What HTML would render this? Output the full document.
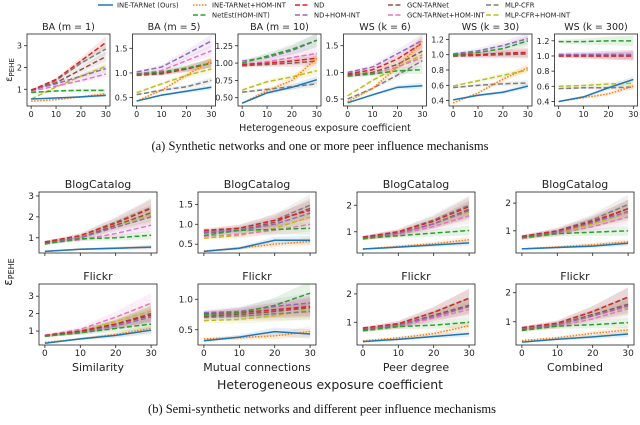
<!DOCTYPE html>
<html><head><meta charset="utf-8"><style>
body{margin:0;background:#fff;}
svg text{font-family:"DejaVu Sans","Liberation Sans",sans-serif;fill:#222;}
.cap{font-family:"Liberation Serif",serif;fill:#111;}
</style></head><body>
<svg id="fig" width="640" height="420" viewBox="0 0 640 420" xmlns="http://www.w3.org/2000/svg"></svg>
<script>
const xVals=[0,10,20,30];
const seriesNames=["INE-TARNet (Ours)","INE-TARNet+HOM-INT","NetEst(HOM-INT)","ND","ND+HOM-INT","GCN-TARNet","GCN-TARNet+HOM-INT","MLP-CFR","MLP-CFR+HOM-INT"];
const panelTitles=["BA (m = 1)","BA (m = 5)","BA (m = 10)","WS (k = 6)","WS (k = 30)","WS (k = 300)","BlogCatalog","BlogCatalog","BlogCatalog","BlogCatalog","Flickr","Flickr","Flickr","Flickr"];
const yLims=[[0.23,3.54],[0.33,1.79],[0.38,1.42],[0.37,1.72],[0.33,1.27],[0.34,1.29],[0.27,3.19],[0.28,1.81],[0.2,2.5],[0.2,2.4],[0.2,3.7],[0.25,1.25],[0.2,2.35],[0.2,2.3]];
const yTicks=[[1,2,3],[0.5,1.0,1.5],[0.5,0.75,1.0,1.25],[0.5,1.0,1.5],[0.4,0.6,0.8,1.0,1.2],[0.4,0.6,0.8,1.0,1.2],[1,2,3],[0.5,1.0,1.5],[1,2],[1,2],[1,2,3],[0.5,1.0],[1,2],[1,2]];
const yTickLabels=[["1","2","3"],["0.5","1.0","1.5"],["0.50","0.75","1.00","1.25"],["0.5","1.0","1.5"],["0.4","0.6","0.8","1.0","1.2"],["0.4","0.6","0.8","1.0","1.2"],["1","2","3"],["0.5","1.0","1.5"],["1","2"],["1","2"],["1","2","3"],["0.5","1.0"],["1","2"],["1","2"]];
const bandFrac=[0.06,0.05,0.05,0.05,0.04,0.04,0.12,0.12,0.12,0.12,0.15,0.12,0.12,0.12];
const d0=[[.55,.6,.65,.72],[.45,.52,.65,.8],[.85,.92,.95,.95],[.95,1.45,2.3,3.15],[.98,1.25,1.6,1.95],[.95,1.3,1.9,2.5],[.9,1.15,1.4,1.7],[.9,1.4,2.2,2.85],[.55,1.1,1.6,2.05]];
const d1=[[.43,.55,.63,.71],[.43,.65,.95,1.25],[.98,1.02,1.1,1.2],[.98,1.0,1.08,1.2],[1.02,1.12,1.38,1.65],[.95,.98,1.08,1.2],[.98,1.05,1.25,1.45],[.56,.65,.72,.85],[.6,.78,.95,1.08]];
const d2=[[.42,.57,.65,.76],[.42,.6,.75,1.07],[1.0,1.1,1.2,1.33],[.98,1.0,1.03,1.07],[1.03,1.08,1.18,1.33],[.96,.98,1.0,1.03],[.98,1.02,1.08,1.14],[.58,.62,.66,.7],[.61,.73,.8,.89]];
const d3=[[.43,.58,.72,.75],[.45,.7,1.1,1.58],[.93,.97,1.03,1.05],[.97,1.05,1.25,1.55],[1.0,1.1,1.35,1.6],[.95,1.0,1.15,1.4],[.93,.98,1.1,1.28],[.5,.7,.95,1.22],[.56,.85,1.1,1.33]];
const d4=[[.41,.47,.51,.59],[.37,.5,.68,.83],[1.0,1.03,1.08,1.18],[1.0,1.0,1.02,1.03],[1.01,1.05,1.12,1.21],[.98,.99,1.0,1.01],[.99,1.0,1.01,1.02],[.57,.6,.62,.63],[.59,.66,.73,.8]];
const d5=[[.4,.46,.58,.69],[.4,.45,.5,.6],[1.19,1.19,1.2,1.2],[1.0,1.0,1.0,1.0],[1.02,1.02,1.02,1.02],[1.0,1.0,1.0,1.0],[1.02,1.02,1.02,1.02],[.57,.58,.58,.59],[.6,.61,.63,.64]];
const d6=[[.35,.45,.5,.55],[.35,.45,.5,.55],[.7,.95,1.0,1.12],[.8,1.1,1.7,2.4],[.8,1.0,1.5,2.0],[.75,1.0,1.6,2.2],[.75,.9,1.2,1.6],[.8,1.1,1.75,2.45],[.7,1.0,1.6,2.1]];
const d7=[[.32,.4,.6,.6],[.33,.4,.5,.57],[.72,.85,.87,.9],[.85,.9,1.1,1.35],[.8,.85,1.0,1.28],[.78,.85,1.05,1.4],[.7,.75,.85,1.0],[.82,.9,1.1,1.48],[.65,.72,.9,1.18]];
const d8=[[.35,.42,.5,.58],[.35,.45,.55,.7],[.75,.85,.95,1.05],[.8,1.0,1.4,1.95],[.8,.95,1.3,1.8],[.75,.95,1.3,1.85],[.72,.9,1.2,1.6],[.8,1.0,1.45,2.0],[.72,.9,1.3,1.75]];
const d9=[[.35,.4,.45,.55],[.35,.42,.5,.6],[.75,.9,.95,1.0],[.8,1.0,1.35,1.8],[.8,.95,1.3,1.7],[.75,.95,1.3,1.8],[.72,.9,1.15,1.5],[.8,1.0,1.4,1.95],[.72,.9,1.25,1.65]];
const d10=[[.3,.55,.75,1.05],[.35,.55,.8,1.15],[.7,.9,1.15,1.4],[.75,1.0,1.4,1.9],[.75,.9,1.3,1.8],[.7,.95,1.4,2.0],[.75,1.1,1.8,2.6],[.7,.95,1.4,2.0],[.7,1.0,1.55,2.15]];
const d11=[[.32,.38,.47,.43],[.35,.37,.4,.47],[.75,.78,.9,1.1],[.76,.78,.83,.88],[.78,.8,.88,.94],[.72,.75,.8,.86],[.74,.77,.82,.9],[.7,.72,.76,.8],[.65,.67,.73,.83]];
const d12=[[.32,.4,.5,.6],[.35,.45,.6,.88],[.7,.85,.9,1.0],[.8,.95,1.35,1.85],[.78,.9,1.2,1.55],[.75,.9,1.25,1.6],[.72,.85,1.15,1.45],[.78,.95,1.35,1.85],[.7,.85,1.2,1.55]];
const d13=[[.3,.4,.48,.58],[.35,.45,.6,.72],[.7,.85,.9,.97],[.8,.95,1.35,1.85],[.78,.9,1.2,1.55],[.75,.9,1.25,1.6],[.72,.85,1.1,1.45],[.78,.95,1.35,1.85],[.7,.85,1.2,1.5]];
const panelData=[d0,d1,d2,d3,d4,d5,d6,d7,d8,d9,d10,d11,d12,d13];
const bottomXLabels=["Similarity","Mutual connections","Peer degree","Combined"];

const colors=["#1f77b4","#ff7f0e","#2ca02c","#d62728","#9467bd","#8c564b","#e377c2","#7f7f7f","#bcbd22"];
const dashes=["none","1.5,1.5","5,2.5","5,2.5","5,2.5","5,2.5","5,2.5","5,2.5","5,2.5"];
const NS="http://www.w3.org/2000/svg";
const svg=document.getElementById('fig');
function mk(tag,attrs,parent){const e=document.createElementNS(NS,tag);for(const k in attrs)e.setAttribute(k,attrs[k]);(parent||svg).appendChild(e);return e;}
function txt(s,x,y,size,anchor,parent,cls){const t=mk('text',{x:x,y:y,'font-size':size,'text-anchor':anchor||'middle'},parent);if(cls)t.setAttribute('class',cls);t.textContent=s;return t;}
function slug(s){return s.toLowerCase().replace(/[^a-z0-9]+/g,'-').replace(/^-|-$/g,'');}

// legend
const legPos=[[98,5],[193,5],[295,5],[388,5],[486,5],[193,15],[295,15],[388,15],[486,15]];
const legOrder=[0,1,3,5,7,2,4,6,8];
const leg=mk('g',{});


legOrder.forEach((si,i)=>{
  const g=mk('g',{},leg);
  
  
  const [lx,ly]=legPos[i];
  mk('line',{x1:lx,y1:ly,x2:lx+15,y2:ly,stroke:colors[si],'stroke-width':1.5,'stroke-dasharray':dashes[si]},g);
  txt(seriesNames[si],lx+19,ly+2.5,6.8,'start',g);
});

// panel geometry
function geom(i){
  if(i<6) return {x:27+i*105.5,y:34,w:83,h:72,fs:8,ts:9.5};
  const j=(i-6)%4, r=Math.floor((i-6)/4);
  return {x:39+j*159,y:r?284:192,w:118,h:61,fs:9,ts:11};
}
panelData.forEach((data,pi)=>{
  const G=geom(pi);
  const g=mk('g',{});
  
  
  const [y0,y1]=yLims[pi];
  const xs=v=>G.x+G.w*(0.05+0.9*v/30);
  const ys=v=>G.y+G.h*(1-(v-y0)/(y1-y0));
  const clipId='c'+pi;
  const cp=mk('clipPath',{id:clipId},g);mk('rect',{x:G.x,y:G.y,width:G.w,height:G.h},cp);
  const plot=mk('g',{'clip-path':'url(#'+clipId+')'},g);
  data.forEach((vals,si)=>{
    const up=vals.map((v,k)=>xs(xVals[k])+','+ys(v*(1+bandFrac[pi]*(0.5+k/3))));
    const dn=vals.map((v,k)=>xs(xVals[k])+','+ys(v*(1-bandFrac[pi]*(0.5+k/3)))).reverse();
    const b=mk('polygon',{points:up.concat(dn).join(' '),fill:colors[si],'fill-opacity':0.12},plot);
    
    
  });
  const order=[8,7,6,5,4,3,2,1,0];
  order.forEach(si=>{
    const vals=data[si];
    const l=mk('polyline',{points:vals.map((v,k)=>xs(xVals[k])+','+ys(v)).join(' '),fill:'none',stroke:colors[si],'stroke-width':1.5,'stroke-dasharray':dashes[si]},plot);
    
    
  });
  mk('rect',{x:G.x,y:G.y,width:G.w,height:G.h,fill:'none',stroke:'#222','stroke-width':0.8},g);
  const t=txt(panelTitles[pi],G.x+G.w/2,G.y-4,G.ts,'middle',g);
  
  
  yTicks[pi].forEach((v,k)=>{
    const y=ys(v);
    mk('line',{x1:G.x-3,y1:y,x2:G.x,y2:y,stroke:'#222','stroke-width':0.8},g);
    txt(yTickLabels[pi][k],G.x-5,y+3,G.fs,'end',g);
  });
  const showX=(pi<6)||(pi>=10);
  xVals.forEach(v=>{
    const x=xs(v);
    mk('line',{x1:x,y1:G.y+G.h,x2:x,y2:G.y+G.h+3,stroke:'#222','stroke-width':0.8},g);
    if(showX) txt(String(v),x,G.y+G.h+11,G.fs,'middle',g);
  });
  if(pi>=10){
    const xl=txt(bottomXLabels[pi-10],G.x+G.w/2,G.y+G.h+26,11,'middle',g);
    
    
  }
});
function label(s,x,y,size,name,cls,rot){
  const t=txt(s,x,y,size,'middle',svg,cls);
  if(rot)t.setAttribute('transform','rotate(-90 '+x+' '+y+')');
  
  
  return t;
}
const ya=label('',12,70,10,'y-axis-title-top','',true);
ya.innerHTML='ε<tspan font-size="7" dy="2">PEHE</tspan>';
const yb=label('',12,272,12,'y-axis-title-bottom','',true);
yb.innerHTML='ε<tspan font-size="8" dy="2">PEHE</tspan>';
label('Heterogeneous exposure coefficient',325,131,9.5,'x-axis-title-top');
label('(a)  Synthetic networks and one or more peer influence mechanisms',320,150,12.5,'caption-a','cap');
label('Heterogeneous exposure coefficient',330,389,12.5,'x-axis-title-bottom');
label('(b)  Semi-synthetic networks and different peer influence mechanisms',322,413,12.5,'caption-b','cap');
</script>
</body></html>
